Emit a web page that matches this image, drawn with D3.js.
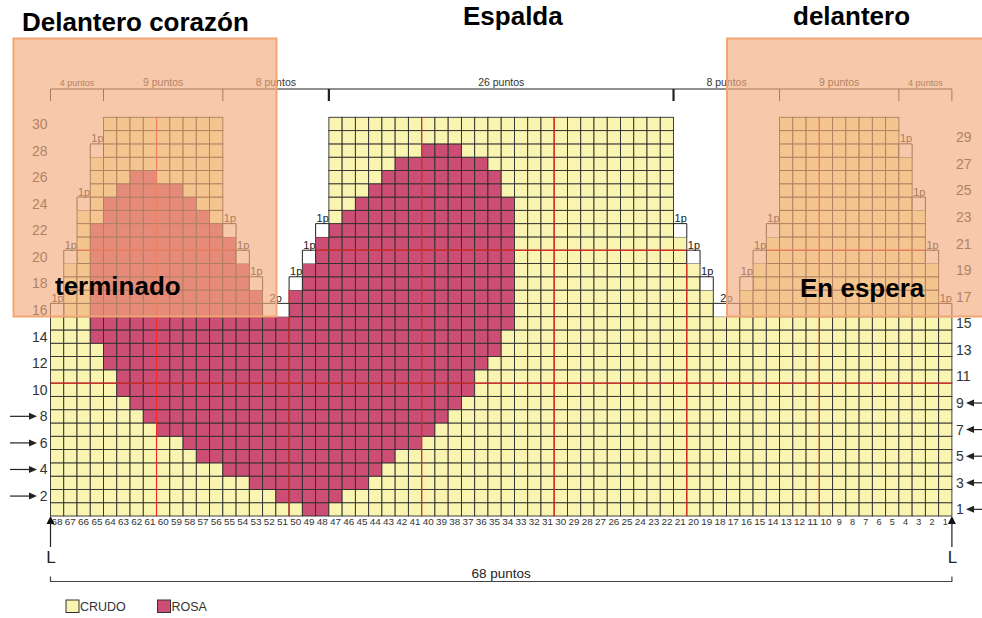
<!DOCTYPE html>
<html lang="es">
<head>
<meta charset="UTF-8">
<title>Delantero corazón</title>
<script src="https://d3js.org/d3.v7.min.js"></script>
<style>
  html, body { margin: 0; background: #fff; }
  svg { display: block; font-family: "Liberation Sans", Arial, sans-serif; }
  .title { font-weight: bold; font-size: 26px; fill: #000; }
  .lab { fill: #333; }
</style>
</head>
<body>
<div id="chart"></div>
<script>
// stitches numbered right to left, rows bottom to top
var stitches = d3.range(68, 0, -1);
var rowNums = d3.range(1, 31);

// rows 16..30 : pieces after the armhole split (first / last stitch of each piece)
var upperRows      = [16,17,18,19,20,21,22,23,24,25,26,27,28,29,30];
var frontLeftFrom  = [67,67,67,67,66,66,66,66,65,65,65,65,64,64,64];
var frontLeftTo    = [53,53,54,54,55,55,56,56,56,56,56,56,56,56,56];
var backFrom       = [50,50,49,49,48,48,47,47,47,47,47,47,47,47,47];
var backTo         = [19,19,20,20,21,21,22,22,22,22,22,22,22,22,22];
var frontRightFrom = [16,16,15,15,14,14,13,13,13,13,13,13,13,13,13];
var frontRightTo   = [ 2, 2, 2, 2, 3, 3, 3, 3, 4, 4, 4, 4, 5, 5, 5];

// ROSA runs (row, first stitch, last stitch)
var roseRow  = [1,2,3,4,5,6,7,8,9,10,11,12,13,14,15,16,16,17,17,18,18,19,19,20,20,21,21,22,22,23,23,24,24,25,25,26,26,27,28];
var roseFrom = [49,51,53,55,57,58,60,61,62,63,63,64,64,65,65,65,50,65,50,65,49,65,49,65,48,65,48,65,47,64,46,64,45,63,44,62,43,42,40];
var roseTo   = [48,47,45,44,43,41,40,39,38,37,37,36,35,35,34,53,34,53,34,54,34,54,34,55,34,55,34,56,34,57,34,58,34,59,35,61,35,36,38];

// bound-off stitches
var boRow  = [16,16,18,20,20,22,24,28,18,18,20,20,22,22,16,16,18,20,20,22,24,28];
var boFrom = [68,52,53,67,54,55,66,65,50,19,49,20,48,21,18, 1,16,15, 2,14, 3, 4];
var boTo   = [68,51,53,67,54,55,66,65,50,19,49,20,48,21,17, 1,16,15, 2,14, 3, 4];

// dimension labels above
var topBounds = [68, 64, 55, 47, 21, 13, 4, 0];   // stitch right of each tick (0 = right end)
var topLabels = ["4 puntos", "9 puntos", "8 puntos", "26 puntos", "8 puntos", "9 puntos", "4 puntos"];

var leftRowLabels = [2,4,6,8,10,12,14,16,18,20,22,24,26,28,30];
var rightRowLabels = [1,3,5,7,9,11,13,15,17,19,21,23,25,27,29];
var leftArrows = [2,4,6,8];
var rightArrows = [1,3,5,7,9];

var legendKeys = ["CRUDO", "ROSA"];
var colors = {CRUDO: "#f9f5b1", ROSA: "#cd4e74"};

var width = 982, height = 618;
var svg = d3.select("#chart").append("svg")
    .attr("width", width)
    .attr("height", height);

var x = d3.scaleBand().domain(stitches).range([50.5, 951.9]);
var y = d3.scaleBand().domain(rowNums.slice().reverse()).range([117.3, 516]);
var cw = x.bandwidth(), ch = y.bandwidth();
var xl = function(s) { return x(s); };            // left edge of stitch s
var xr = function(s) { return x(s) + cw; };       // right edge

function inShape(r, s) {
    if (r <= 15) return true;
    var k = upperRows.indexOf(r);
    return (s <= frontLeftFrom[k] && s >= frontLeftTo[k]) ||
           (s <= backFrom[k] && s >= backTo[k]) ||
           (s <= frontRightFrom[k] && s >= frontRightTo[k]);
}
function isRose(r, s) {
    for (var i = 0; i < roseRow.length; i++) {
        if (roseRow[i] === r && s <= roseFrom[i] && s >= roseTo[i]) return true;
    }
    return false;
}

var cells = [];
rowNums.forEach(function(r) {
    stitches.forEach(function(s) {
        if (inShape(r, s)) cells.push({r: r, s: s, c: isRose(r, s) ? "ROSA" : "CRUDO"});
    });
});

var grid = svg.append("g");
grid.selectAll("rect.cell")
    .data(cells)
    .enter().append("rect")
    .attr("class", "cell")
    .attr("x", function(d) { return x(d.s); })
    .attr("y", function(d) { return y(d.r); })
    .attr("width", cw)
    .attr("height", ch)
    .attr("fill", function(d) { return colors[d.c]; })
    .attr("stroke", "#2e2e2e")
    .attr("stroke-width", 0.9);

// red guide lines every 10 stitches / 10 rows
var redV = cells.filter(function(d) { return d.s % 10 === 0; });
grid.selectAll("line.rv")
    .data(redV)
    .enter().append("line")
    .attr("x1", function(d) { return xl(d.s); })
    .attr("x2", function(d) { return xl(d.s); })
    .attr("y1", function(d) { return y(d.r); })
    .attr("y2", function(d) { return y(d.r) + ch; })
    .attr("stroke", "#ee2b24")
    .attr("stroke-width", 1.2);
var redH = cells.filter(function(d) { return d.r === 11 || d.r === 21; });
grid.selectAll("line.rh")
    .data(redH)
    .enter().append("line")
    .attr("x1", function(d) { return x(d.s); })
    .attr("x2", function(d) { return x(d.s) + cw; })
    .attr("y1", function(d) { return y(d.r) + ch; })
    .attr("y2", function(d) { return y(d.r) + ch; })
    .attr("stroke", "#ee2b24")
    .attr("stroke-width", 1.2);

// bound-off brackets
var bo = boRow.map(function(r, i) { return {r: r, from: boFrom[i], to: boTo[i]}; });
var boG = svg.append("g");
boG.selectAll("path")
    .data(bo)
    .enter().append("path")
    .attr("d", function(d) {
        var x0 = xl(d.from), x1 = xr(d.to), y0 = y(d.r), y1 = y0 + ch;
        return "M" + x0 + "," + y1 + "V" + y0 + "H" + x1 + "V" + y1;
    })
    .attr("fill", "#fff")
    .attr("stroke", "#222")
    .attr("stroke-width", 1);
boG.selectAll("text")
    .data(bo)
    .enter().append("text")
    .attr("x", function(d) { return xl(d.from) + (d.from === d.to ? 1 : 7); })
    .attr("y", function(d) { return y(d.r) - 1.5; })
    .attr("font-size", 11)
    .attr("fill", "#222")
    .text(function(d) { return (d.from - d.to + 1) + "p"; });

// top dimension line
var topY = 89;
var tb = topBounds.map(function(s) { return s === 0 ? xr(1) : xl(s); });
svg.append("line")
    .attr("x1", tb[0]).attr("x2", tb[tb.length - 1])
    .attr("y1", topY).attr("y2", topY)
    .attr("stroke", "#222").attr("stroke-width", 1.2);
svg.selectAll("line.tick")
    .data(tb)
    .enter().append("line")
    .attr("x1", function(d) { return d; }).attr("x2", function(d) { return d; })
    .attr("y1", topY).attr("y2", topY + 12)
    .attr("stroke", "#222")
    .attr("stroke-width", function(d, i) { return (i === 3 || i === 4) ? 2.2 : 1; });
svg.selectAll("text.top")
    .data(topLabels)
    .enter().append("text")
    .attr("x", function(d, i) { return (tb[i] + tb[i + 1]) / 2; })
    .attr("y", 86)
    .attr("text-anchor", "middle")
    .attr("font-size", function(d) { return d.indexOf("4 ") === 0 ? 9 : 10.5; })
    .attr("fill", "#333")
    .text(function(d) { return d; });

// row numbers
svg.selectAll("text.rl")
    .data(leftRowLabels)
    .enter().append("text")
    .attr("class", "lab")
    .attr("x", 47.5)
    .attr("y", function(r) { return y(r) + ch / 2 + 5; })
    .attr("text-anchor", "end")
    .attr("font-size", 14)
    .text(function(r) { return r; });
svg.selectAll("text.rr")
    .data(rightRowLabels)
    .enter().append("text")
    .attr("class", "lab")
    .attr("x", 956)
    .attr("y", function(r) { return y(r) + ch / 2 + 5; })
    .attr("font-size", 14)
    .text(function(r) { return r; });

// direction arrows
var arr = svg.append("g").attr("stroke", "#222").attr("fill", "#222");
leftArrows.forEach(function(r) {
    var cy = y(r) + ch / 2;
    arr.append("line").attr("x1", 10).attr("x2", 31).attr("y1", cy).attr("y2", cy).attr("stroke-width", 1.2);
    arr.append("path").attr("d", "M29," + (cy - 3.5) + "L37," + cy + "L29," + (cy + 3.5) + "Z").attr("stroke", "none");
});
rightArrows.forEach(function(r) {
    var cy = y(r) + ch / 2;
    arr.append("line").attr("x1", 972).attr("x2", 982).attr("y1", cy).attr("y2", cy).attr("stroke-width", 1.2);
    arr.append("path").attr("d", "M974," + (cy - 3.5) + "L966," + cy + "L974," + (cy + 3.5) + "Z").attr("stroke", "none");
});

// stitch numbers
svg.selectAll("text.cn")
    .data(stitches)
    .enter().append("text")
    .attr("x", function(s) { return x(s) + cw / 2; })
    .attr("y", 525)
    .attr("text-anchor", "middle")
    .attr("font-size", 9)
    .attr("fill", "#333")
    .attr("textLength", function(s) { return s >= 10 ? 11 : null; })
    .attr("lengthAdjust", "spacingAndGlyphs")
    .text(function(s) { return s; });

// bottom up arrows + L
[xl(68), xr(1)].forEach(function(px) {
    svg.append("path").attr("d", "M" + (px - 4) + ",524L" + px + ",516L" + (px + 4) + ",524Z").attr("fill", "#111");
    svg.append("line").attr("x1", px).attr("x2", px).attr("y1", 523).attr("y2", 547).attr("stroke", "#222").attr("stroke-width", 1.2);
    svg.append("text").attr("x", px + 0.5).attr("y", 563).attr("text-anchor", "middle")
        .attr("font-size", 17).attr("fill", "#222").text("L");
});

// 68 puntos
var by = 581.5;
svg.append("path")
    .attr("d", "M" + xl(68) + "," + (by - 5) + "V" + by + "H" + xr(1) + "V" + (by - 5))
    .attr("fill", "none").attr("stroke", "#444").attr("stroke-width", 1.2);
svg.append("text").attr("x", (xl(68) + xr(1)) / 2).attr("y", 578)
    .attr("text-anchor", "middle").attr("font-size", 13.5).attr("fill", "#222")
    .text(stitches.length + " puntos");

// legend
var lg = svg.append("g").selectAll("g")
    .data(legendKeys)
    .enter().append("g")
    .attr("transform", function(d, i) { return "translate(" + (66 + i * 91.5) + ",600)"; });
lg.append("rect").attr("width", 13).attr("height", 12.5)
    .attr("fill", function(d) { return colors[d]; })
    .attr("stroke", "#333").attr("stroke-width", 1);
lg.append("text").attr("x", 14).attr("y", 11).attr("font-size", 12.5).attr("fill", "#333")
    .text(function(d) { return d; });

// highlight boxes over the two fronts
svg.append("rect").attr("x", 13.5).attr("y", 38.5).attr("width", 263).attr("height", 278)
    .attr("fill", "rgba(242,170,125,0.65)").attr("stroke", "#f2a674").attr("stroke-width", 2);
svg.append("rect").attr("x", 727).attr("y", 38.5).attr("width", 262).attr("height", 278)
    .attr("fill", "rgba(242,170,125,0.65)").attr("stroke", "#f2a674").attr("stroke-width", 2);

// titles
svg.append("text").attr("class", "title").attr("x", 22).attr("y", 31).text("Delantero corazón");
svg.append("text").attr("class", "title").attr("x", 463).attr("y", 25).text("Espalda");
svg.append("text").attr("class", "title").attr("x", 793).attr("y", 25).text("delantero");
svg.append("text").attr("class", "title").attr("x", 55).attr("y", 295).text("terminado");
svg.append("text").attr("class", "title").attr("x", 800).attr("y", 297).text("En espera");
</script>
</body>
</html>
